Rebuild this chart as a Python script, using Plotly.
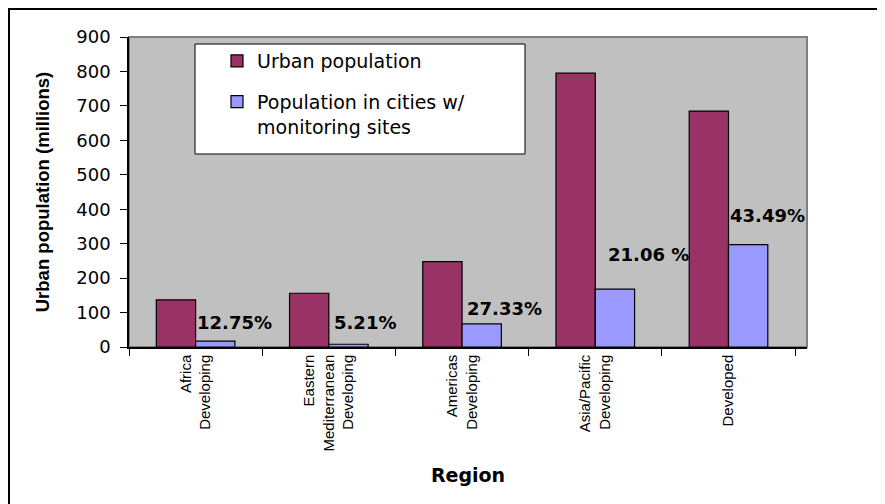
import plotly.graph_objects as go

# --- data ---
regions = [
    "Africa<br>Developing",
    "Eastern<br>Mediterranean<br>Developing",
    "Americas<br>Developing",
    "Asia/Pacific<br>Developing",
    "Developed",
]
urban_pop = [137, 156, 248, 795, 685]
monitored_pop = [17, 8, 67, 168, 297]
share_labels = ["12.75%", "5.21%", "27.33%", "21.06 %", "43.49%"]

# label placement (hand placed text boxes in the original)
label_y = [70, 70, 113, 270, 383]
label_xshift = [39, 36, 42, 53, 39]

RED = "#993366"
BLUE = "#9999FF"

# the page body has an 8px margin, so the figure is drawn 8px in from the window corner
OFF = 8
W, H = 885 - OFF, 504 - OFF
L, R, T, B = 129 - OFF, 78, 37 - OFF, 157

fig = go.Figure()
fig.add_trace(go.Bar(
    x=regions, y=urban_pop, name="Urban population",
    marker=dict(color=RED, line=dict(color="black", width=1.2)),
    legendgroup="a",
))
fig.add_trace(go.Bar(
    x=regions, y=monitored_pop, name="Population in cities w/<br>monitoring sites",
    marker=dict(color=BLUE, line=dict(color="black", width=1.2)),
    legendgroup="b",
))

for reg, txt, ly, dx in zip(regions, share_labels, label_y, label_xshift):
    fig.add_annotation(
        x=reg, y=ly, text=txt, showarrow=False, xshift=dx,
        font=dict(family="DejaVu Sans", size=18, color="black", weight="bold"),
    )

pw = W - L - R
ph = H - T - B


def px_x(v):
    # window pixel -> paper fraction
    return (v - OFF - L) / pw


def px_y(v):
    return (H - B - (v - OFF)) / ph


shapes = [
    # plot area frame (grey, right/top visible)
    dict(type="rect", xref="paper", yref="paper", x0=0, x1=1, y0=0, y1=1,
         line=dict(color="#808080", width=2), layer="below"),
    # legend box
    dict(type="rect", xref="paper", yref="paper",
         x0=px_x(195), x1=px_x(525), y0=px_y(154), y1=px_y(44),
         line=dict(color="black", width=1), fillcolor="white", layer="above"),
    # outer chart border
    dict(type="rect", xref="paper", yref="paper",
         x0=px_x(9), x1=px_x(900), y0=px_y(520), y1=px_y(9),
         line=dict(color="black", width=2)),
]

fig.update_layout(
    width=W, height=H,
    margin=dict(l=L, r=R, t=T, b=B, autoexpand=False),
    paper_bgcolor="white",
    plot_bgcolor="#C0C0C0",
    barmode="group",
    bargap=0.41,
    bargroupgap=0,
    shapes=shapes,
    showlegend=True,
    legend=dict(
        x=px_x(217), y=px_y(42), xanchor="left", yanchor="top",
        bgcolor="rgba(0,0,0,0)", borderwidth=0,
        font=dict(family="DejaVu Sans", size=19, color="black"),
        traceorder="grouped", tracegroupgap=13, valign="top",
    ),
    font=dict(family="DejaVu Sans", color="black"),
)
fig.update_xaxes(
    type="category",
    showline=True, linecolor="black", linewidth=1.5,
    ticks="outside", tickson="boundaries", ticklen=7, tickcolor="black",
    tickangle=-90,
    tickfont=dict(family="Liberation Sans, Arial", size=15, color="black"),
    title=dict(text="Region", standoff=18,
               font=dict(family="DejaVu Sans", size=19, color="black", weight="bold")),
    showgrid=False, automargin=False,
)
fig.update_yaxes(
    range=[0, 900], dtick=100,
    showline=True, linecolor="black", linewidth=1.5,
    ticks="outside", ticklen=7, tickcolor="black",
    ticklabelstandoff=6,
    tickfont=dict(family="DejaVu Sans", size=18, color="black"),
    title=dict(text="Urban population (millions)", standoff=22,
               font=dict(family="Liberation Sans, Arial", size=18.5, color="black", weight="bold")),
    showgrid=False, zeroline=False, automargin=False,
)

fig.write_html("out.html")
